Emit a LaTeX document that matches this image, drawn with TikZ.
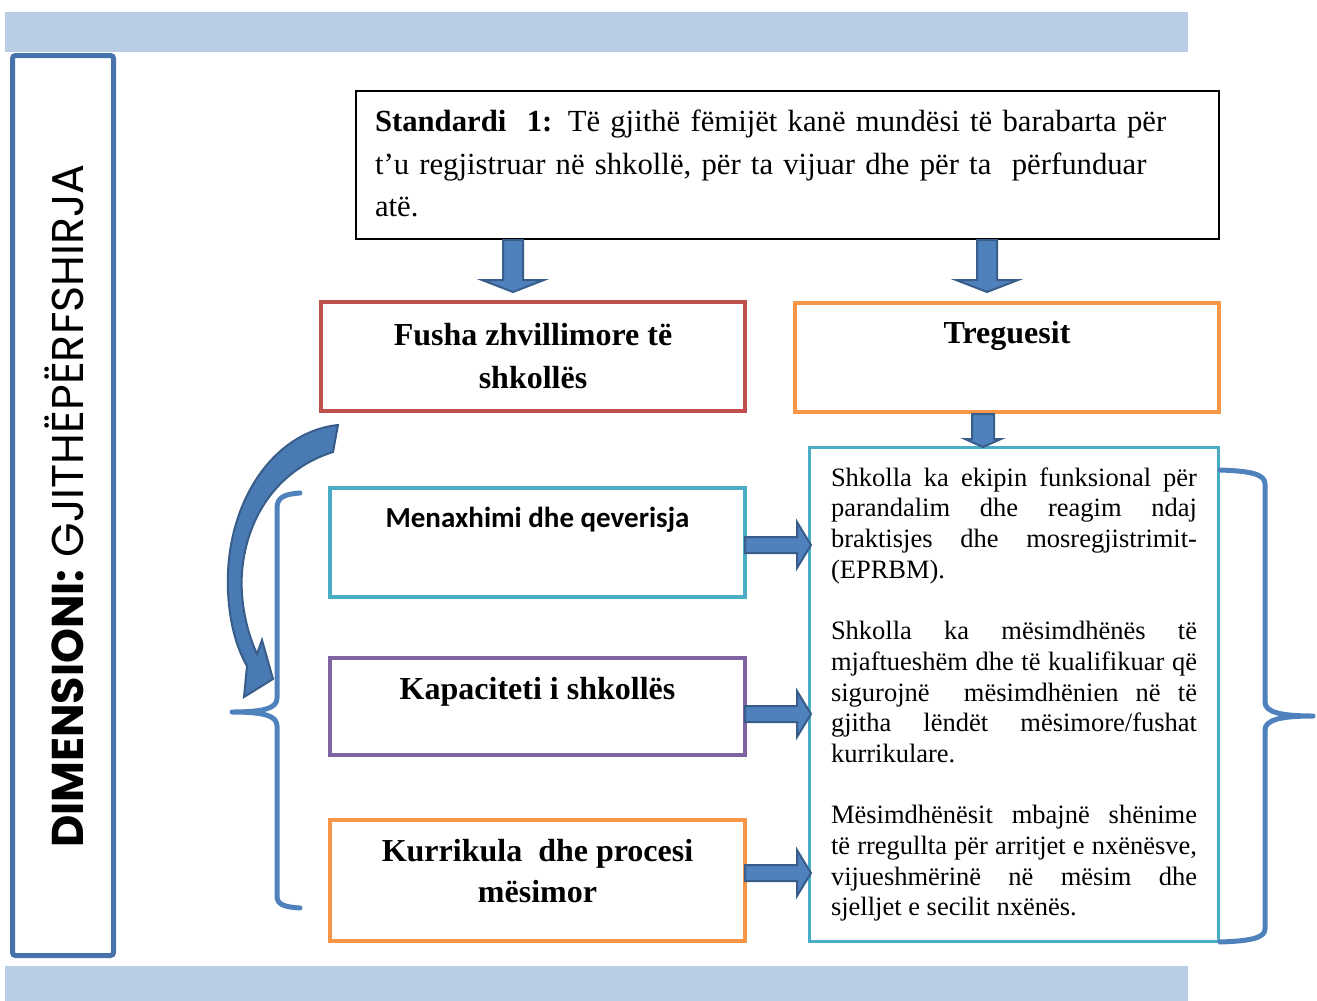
\documentclass[tikz,border=0pt]{standalone}
\usepackage{fontspec}
\setmainfont{Liberation Serif}
\newfontfamily\geofont{Poppins}
\newfontfamily\calfont{Carlito}
\usepackage{xcolor}
\usepackage{tikz}
\usetikzlibrary{positioning,calc}

\definecolor{bandblue}{HTML}{B9CDE5}
\definecolor{frameblue}{HTML}{4773AD}
\definecolor{boxred}{HTML}{C0504D}
\definecolor{boxorange}{HTML}{F79646}
\definecolor{boxteal}{HTML}{4BACC6}
\definecolor{boxpurple}{HTML}{8064A2}
\definecolor{arrowfill}{HTML}{4F81BD}
\definecolor{arrowdark}{HTML}{385D8A}

% block arrows: tail, tip, shaft half width, head half width, head length
\newcommand{\blockdown}[5]{%
  \filldraw[blockarrow] let \p1=(#1), \p2=(#2) in
    (\x1-#3pt,\y1) -- (\x1+#3pt,\y1) -- (\x1+#3pt,\y2+#5pt) -- (\x1+#4pt,\y2+#5pt)
    -- (\x1,\y2) -- (\x1-#4pt,\y2+#5pt) -- (\x1-#3pt,\y2+#5pt) -- cycle;}
\newcommand{\blockright}[5]{%
  \filldraw[blockarrow] let \p1=(#1), \p2=(#2) in
    (\x1,\y1+#3pt) -- (\x1,\y1-#3pt) -- (\x2-#5pt,\y1-#3pt) -- (\x2-#5pt,\y1-#4pt)
    -- (\x2,\y1) -- (\x2-#5pt,\y1+#4pt) -- (\x2-#5pt,\y1+#3pt) -- cycle;}

\begin{document}
\begin{tikzpicture}[
    x=1pt, y=-1pt,
    box/.style={draw, line width=4pt, inner sep=0pt},
    headfont/.style={font=\fontsize{32}{41}\selectfont\bfseries, align=center},
    blockarrow/.style={fill=arrowfill, draw=arrowdark, line width=2pt, line join=miter},
    brace/.style={draw=arrowfill, line width=5pt, line cap=round, line join=round}
]
\useasboundingbox (0,0) rectangle (1317,1001);

% Bands
\fill[bandblue] (5,12) rectangle (1188,52);
\fill[bandblue] (5,966) rectangle (1188,1001);

% Dimension frame
\node[draw=frameblue, line width=5pt, rounded corners=3pt, minimum width=101, minimum height=900, inner sep=0pt] (dimbox) at (63,505.5) {};
\node[rotate=90, font=\geofont\fontsize{44.5}{44.5}\selectfont] (dim) at (64,506) {{\bfseries DIMENSIONI:} GJITHËPËRFSHIRJA};

% Standard
\node[draw, line width=2pt, minimum width=863, minimum height=148, inner xsep=19pt, text width=825pt, align=left,
      font=\fontsize{30.7}{42.5}\selectfont] (std) at (787.5,165)
  {{\bfseries Standardi\ \ 1:} Të gjithë fëmijët kanë mundësi të barabarta për\\
   t’u regjistruar në shkollë, për ta vijuar dhe për ta\ \ përfunduar\\
   atë.\vspace{3pt}};

% Fields and indicators
\node[box, draw=boxred, minimum width=424, minimum height=109, headfont, font=\fontsize{32}{43}\selectfont\bfseries] (fusha) at (533,356) {Fusha zhvillimore të\\shkollës};
\node[box, draw=boxorange, minimum width=424, minimum height=109,
      label={[headfont, anchor=north, inner sep=0pt, yshift=-20pt]north:Treguesit}] (treg) at (1007,357.5) {};

\node[box, draw=boxteal, minimum width=415, minimum height=109,
      label={[font=\calfont\fontsize{29}{29}\selectfont\bfseries, anchor=north, inner sep=0pt, yshift=-21pt]north:Menaxhimi dhe qeverisja}] (men) at (537.5,542.5) {};
\node[box, draw=boxpurple, minimum width=415, minimum height=97,
      label={[headfont, anchor=north, inner sep=0pt, yshift=-21pt]north:Kapaciteti i shkollës}] (kap) at (537.5,706.5) {};
\node[box, draw=boxorange, minimum width=415, minimum height=121,
      label={[headfont, anchor=north, inner sep=0pt, yshift=-21pt]north:Kurrikula\ \ dhe procesi\\mësimor}] (kur) at (537.5,880.5) {};

\node[draw=boxteal, line width=3pt, minimum width=409, minimum height=494, inner xsep=21.5pt, text width=366pt,
      align=justify, font=\fontsize{26.5}{30.7}\selectfont] (ind) at (1014,694.5)
  {\hyphenpenalty=10000 \tolerance=9999 \parindent=0pt
   Shkolla ka ekipin funksional për\linebreak parandalim dhe reagim ndaj\linebreak
   braktisjes dhe mosregjistrimit-\linebreak (EPRBM).\par\vspace{30.7pt}
   Shkolla ka mësimdhënës të\linebreak mjaftueshëm dhe të kualifikuar që\linebreak
   sigurojnë\ \ mësimdhënien në të\linebreak gjitha lëndët mësimore/fushat\linebreak
   kurrikulare.\par\vspace{30.7pt}
   Mësimdhënësit mbajnë shënime\linebreak të rregullta për arritjet e nxënësve,\linebreak
   vijueshmërinë në mësim dhe\linebreak sjelljet e secilit nxënës.};

% Down arrows
\blockdown{std.south -| 513,0}{513,292}{10}{31}{12}
\blockdown{std.south -| 987,0}{987,292}{10}{31}{12}
\blockdown{treg.south -| 983,0}{983,447}{11}{18}{8}

% Right arrows
\blockright{$(men.east)+(-2,2.5)$}{$(men.east -| ind.west)+(3,2.5)$}{8}{23}{14}
\blockright{$(kap.east)+(-2,7.5)$}{$(kap.east -| ind.west)+(3,7.5)$}{8}{23}{14}
\blockright{$(kur.east)+(-2,-7.5)$}{$(kur.east -| ind.west)+(3,-7.5)$}{8}{23}{14}

% Left brace
\coordinate (ltip) at (232,712);
\draw[brace] (300,493) .. controls (285,494) and (277,497) .. (277,508) -- (277,698)
  .. controls (277,708) and (265,712) .. (ltip)
  .. controls (265,712) and (277,716) .. (277,726) -- (277,896)
  .. controls (277,905) and (285,907) .. (300,908);

% Right brace
\coordinate (rtip) at (1313,716);
\draw[brace] (1220,470) .. controls (1250,471) and (1265,474) .. (1265,484) -- (1265,702)
  .. controls (1265,712) and (1280,716) .. (rtip)
  .. controls (1280,716) and (1265,720) .. (1265,730) -- (1265,929)
  .. controls (1265,938) and (1250,941) .. (1220,942);

% Curved arrow
\filldraw[blockarrow, fill=arrowfill!80!arrowdark] (338,425) .. controls (272,432) and (224,505) .. (228,592)
  .. controls (230,628) and (238,650) .. (247,666) -- (244,697) -- (273,679) -- (262,640)
  -- (257,654) .. controls (246,630) and (240,600) .. (242,572)
  .. controls (247,512) and (282,468) .. (333,452) -- cycle;

\end{tikzpicture}
\end{document}
